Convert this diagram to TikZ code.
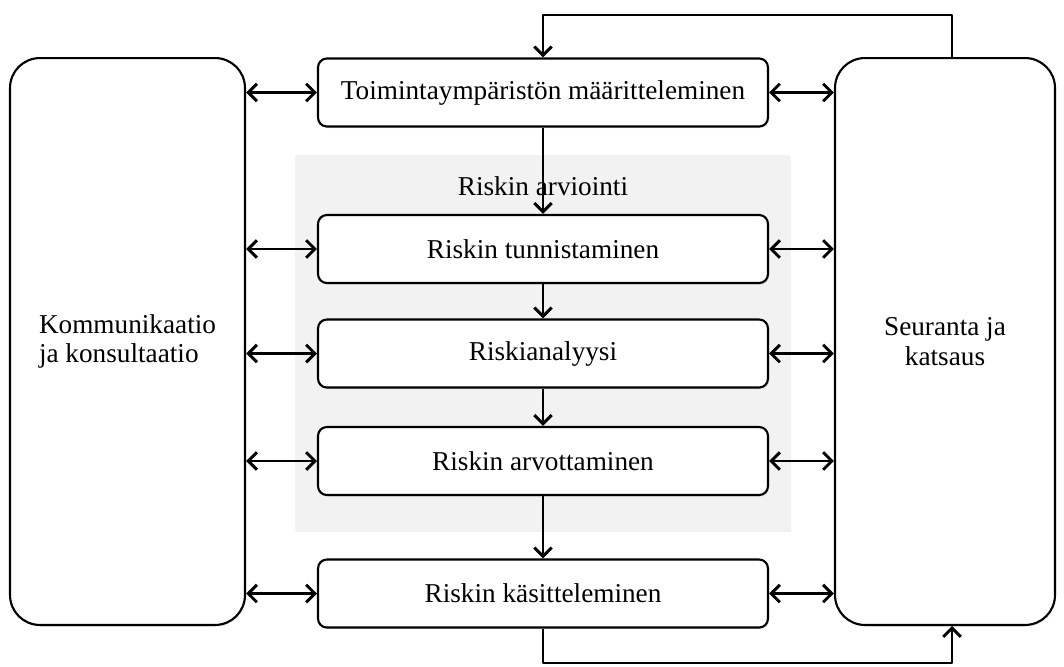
\documentclass[tikz,border=0pt]{standalone}
\usepackage{fontspec}
\setmainfont{Liberation Serif}
\usetikzlibrary{arrows.meta,shadows}
\begin{document}
\begin{tikzpicture}[x=0.02cm,y=-0.02cm,line join=round,line width=1.2pt,
>={Straight Barb[length=5pt,width=10pt,line width=1.7pt]},font=\fontsize{15.5}{17}\selectfont,
shade/.style={drop shadow={opacity=.2,shadow xshift=.6pt,shadow yshift=-.9pt}},
side/.style={draw,shade,fill=white,rounded corners=17pt,minimum height=11.34cm},
stepbox/.style={draw,shade,fill=white,rounded corners=5pt,minimum width=9cm,minimum height=1.36cm}]
\useasboundingbox (0,0) rectangle (1064,666);
\fill[black!5,drop shadow={opacity=.12,shadow xshift=.6pt,shadow yshift=-.9pt}]
(295,155) rectangle (790,530);
\node (arv) at (543,186) {Riskin arviointi};
\node[side,minimum width=4.7cm,align=left] (kk) at (127.5,341.5) {Kommunikaatio\\ja konsultaatio};
\node[side,minimum width=4.4cm,align=center] (sk) at (945,341.5) {Seuranta ja\\katsaus};
\node[stepbox] (tm) at (543,92.5) {Toimintaympäristön määritteleminen};
\node[stepbox] (rt) at (543,249) {Riskin tunnistaminen};
\node[stepbox] (ra) at (543,353.5) {Riskianalyysi};
\node[stepbox] (rv) at (543,461) {Riskin arvottaminen};
\node[stepbox] (rk) at (543,593.5) {Riskin käsitteleminen};
\draw[->] (tm.south) -- (rt.north);
\draw[->] (rt.south) -- (ra.north);
\draw[->] (ra.south) -- (rv.north);
\draw[->] (rv.south) -- (rk.north);
\foreach \n in {tm,rt,ra,rv,rk}{
\draw[<->] (kk.east |- \n.west) -- (\n.west);
\draw[<->] (\n.east) -- (sk.west |- \n.east);
}
\draw[->] ([xshift=0.14cm]sk.north) -- ++(0,-42) -| (tm.north);
\draw[->] (rk.south) -- ++(0,34) -| ([xshift=0.14cm]sk.south);
\end{tikzpicture}
\end{document}
